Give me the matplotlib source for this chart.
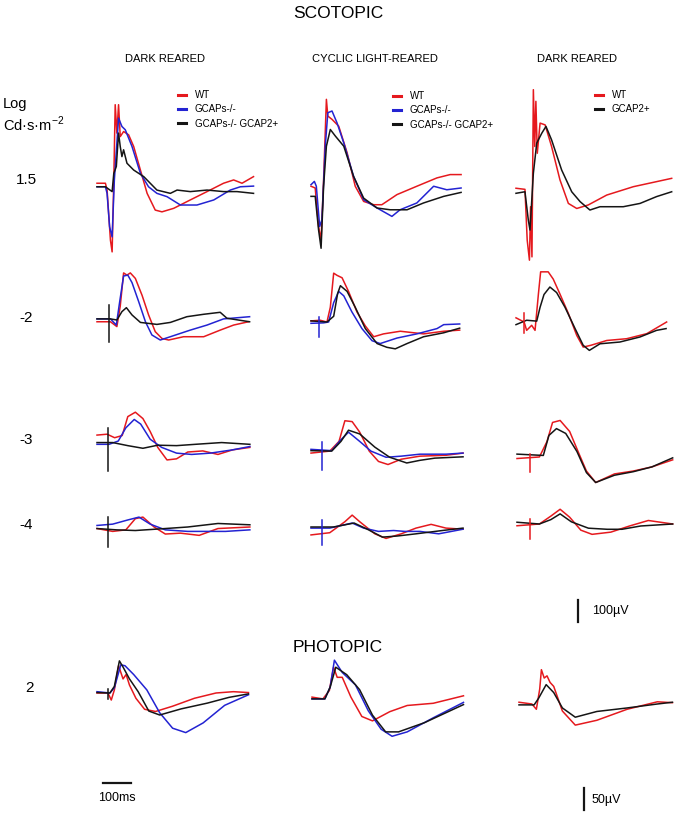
import matplotlib
matplotlib.use('Agg')
import matplotlib.pyplot as plt
from matplotlib.lines import Line2D

plt.rcParams['font.family'] = ['Liberation Sans', 'DejaVu Sans']
plt.rcParams['mathtext.fontset'] = 'custom'
plt.rcParams['mathtext.rm'] = 'Liberation Sans'

# ---- data: time (ms) and response (uV) ----
# scotopic 1.5, dark reared
s15_dr_wt_t = [0, 30, 36, 48, 54, 60, 65, 71, 77, 83, 95, 113, 131, 155, 179, 208, 232, 274, 333, 393, 452, 488, 518, 559]
s15_dr_wt_v = [8, 8, -23, -251, -304, 23, 365, 236, 365, 220, 243, 228, 175, 68, -38, -114, -122, -106, -68, -30, 8, 23, 8, 38]
s15_dr_ko_t = [0, 30, 36, 45, 54, 62, 77, 89, 101, 125, 155, 184, 214, 250, 298, 357, 417, 476, 512, 559]
s15_dr_ko_v = [-8, -8, -38, -190, -236, 23, 304, 266, 251, 175, 53, -8, -38, -53, -91, -91, -68, -23, -8, -5]
s15_dr_g2_t = [0, 30, 54, 60, 69, 77, 83, 89, 95, 107, 131, 167, 214, 262, 286, 333, 393, 452, 500, 559]
s15_dr_g2_v = [-8, -8, -30, 53, 84, 236, 175, 129, 160, 99, 68, 38, -23, -38, -23, -30, -23, -30, -30, -38]
# scotopic 1.5, cyclic light reared
s15_cl_wt_t = [0, 15, 27, 36, 45, 55, 60, 75, 99, 129, 158, 188, 224, 253, 307, 378, 450, 497, 536]
s15_cl_wt_v = [8, 0, -175, -236, 38, 403, 327, 312, 281, 160, 8, -61, -76, -76, -30, 8, 46, 61, 61]
s15_cl_ko_t = [0, 12, 19, 31, 39, 51, 60, 75, 93, 117, 152, 188, 236, 289, 318, 378, 438, 485, 536]
s15_cl_ko_v = [15, 30, 8, -175, -144, 190, 342, 350, 296, 205, 53, -53, -91, -129, -99, -68, 8, -8, 0]
s15_cl_g2_t = [0, 15, 27, 36, 45, 55, 69, 87, 117, 152, 188, 236, 283, 343, 402, 474, 536]
s15_cl_g2_v = [-38, -38, -190, -274, 8, 190, 266, 236, 190, 53, -46, -91, -99, -99, -68, -38, -20]
# scotopic 1.5, dark reared (GCAP2+)
s15_d2_wt_t = [0, 32, 40, 48, 52, 57, 62, 67, 71, 76, 86, 104, 127, 157, 187, 217, 258, 324, 419, 502, 556]
s15_d2_wt_v = [8, 3, -228, -319, -76, -304, 456, 198, 403, 167, 304, 296, 198, 46, -61, -84, -68, -23, 15, 38, 53]
s15_d2_tg_t = [0, 32, 44, 50, 62, 74, 92, 107, 127, 163, 199, 229, 264, 300, 383, 443, 502, 556]
s15_d2_tg_v = [-15, -8, -137, -182, 76, 213, 258, 289, 228, 91, -8, -53, -91, -76, -76, -61, -30, -8]

# scotopic -2
s2_dr_wt_t = [0, 48, 71, 83, 95, 107, 119, 137, 161, 184, 208, 232, 256, 309, 381, 440, 488, 541]
s2_dr_wt_v = [-8, -8, -30, 63, 214, 204, 214, 189, 112, 24, -53, -84, -91, -76, -76, -46, -23, -8]
s2_dr_ko_t = [0, 48, 69, 81, 95, 110, 125, 149, 173, 196, 226, 262, 333, 393, 452, 545]
s2_dr_ko_v = [5, 5, -23, 83, 200, 204, 170, 83, -8, -68, -91, -76, -46, -23, 5, 15]
s2_dr_g2_t = [0, 48, 71, 89, 105, 125, 155, 214, 262, 321, 381, 440, 464, 545]
s2_dr_g2_v = [5, 5, 0, 38, 56, 23, -11, -20, -11, 15, 26, 35, 8, -8]
s2_cl_wt_t = [0, 33, 57, 69, 81, 93, 111, 134, 164, 194, 224, 259, 319, 402, 474, 531]
s2_cl_wt_v = [5, 8, 0, 67, 222, 212, 201, 139, 46, -18, -67, -54, -42, -54, -42, -37]
s2_cl_ko_t = [0, 45, 63, 81, 99, 117, 146, 182, 218, 247, 307, 378, 450, 474, 531]
s2_cl_ko_v = [-6, -4, 0, 88, 139, 119, 46, -30, -85, -98, -73, -54, -30, -12, -9]
s2_cl_g2_t = [0, 57, 81, 95, 105, 129, 158, 194, 236, 271, 301, 343, 402, 474, 531]
s2_cl_g2_v = [5, 0, 26, 129, 165, 139, 67, -30, -98, -115, -122, -98, -67, -49, -28]
s2_d2_wt_t = [0, 29, 38, 56, 68, 80, 88, 115, 133, 157, 187, 217, 240, 267, 324, 395, 467, 538]
s2_d2_wt_v = [19, 0, -38, -15, -38, 127, 228, 228, 195, 127, 39, -61, -114, -106, -84, -76, -53, 0]
s2_d2_tg_t = [0, 38, 74, 86, 100, 121, 145, 175, 211, 240, 262, 300, 371, 443, 502, 536]
s2_d2_tg_v = [-12, 8, 4, 67, 125, 159, 134, 67, -30, -106, -129, -99, -91, -68, -38, -30]

# scotopic -3
s3_dr_wt_t = [0, 36, 63, 90, 110, 137, 164, 190, 217, 250, 284, 324, 378, 432, 485, 546]
s3_dr_wt_v = [36, 40, 24, 34, 120, 140, 111, 52, -20, -77, -72, -41, -36, -52, -31, -20]
s3_dr_ko_t = [0, 43, 76, 103, 133, 156, 190, 231, 284, 338, 405, 485, 546]
s3_dr_ko_v = [-6, -6, 9, 69, 107, 86, 17, -20, -46, -52, -46, -31, -16]
s3_dr_g2_t = [0, 56, 110, 164, 217, 284, 351, 445, 546]
s3_dr_g2_v = [2, 2, -12, -24, -10, -12, -6, 2, -6]
s3_cl_wt_t = [0, 67, 100, 121, 147, 174, 208, 241, 275, 322, 389, 482, 543]
s3_cl_wt_v = [-14, -5, 39, 133, 129, 81, -5, -52, -66, -42, -28, -24, -14]
s3_cl_ko_t = [0, 74, 107, 134, 174, 214, 268, 322, 389, 482, 543]
s3_cl_ko_v = [3, -3, 47, 81, 39, -5, -33, -28, -19, -19, -14]
s3_cl_g2_t = [0, 74, 107, 134, 174, 228, 281, 342, 389, 442, 543]
s3_cl_g2_v = [-3, -5, 39, 90, 73, 13, -33, -59, -47, -37, -31]
s3_d2_wt_t = [0, 80, 107, 127, 154, 188, 221, 248, 281, 348, 415, 482, 556]
s3_d2_wt_v = [-16, -9, 61, 148, 157, 107, 7, -73, -125, -86, -73, -54, -22]
s3_d2_tg_t = [0, 94, 114, 141, 174, 214, 248, 281, 348, 415, 482, 556]
s3_d2_tg_v = [4, -2, 89, 120, 98, 16, -80, -125, -92, -76, -54, -13]

# scotopic -4
s4_dr_wt_t = [0, 56, 103, 137, 164, 204, 244, 298, 365, 432, 546]
s4_dr_wt_v = [-7, -20, -13, 38, 45, 0, -32, -28, -38, -7, 0]
s4_dr_ko_t = [0, 56, 110, 150, 190, 244, 324, 378, 459, 546]
s4_dr_ko_v = [7, 13, 32, 45, 13, -13, -20, -20, -20, -13]
s4_dr_g2_t = [0, 70, 137, 244, 324, 432, 546]
s4_dr_g2_v = [-7, -13, -16, -7, 0, 16, 10]
s4_cl_wt_t = [0, 67, 121, 147, 174, 228, 268, 322, 375, 429, 482, 543]
s4_cl_wt_v = [-36, -26, 24, 54, 24, -31, -52, -31, -5, 12, -5, -10]
s4_cl_ko_t = [0, 67, 147, 188, 241, 295, 335, 389, 456, 543]
s4_cl_ko_v = [-5, -5, 18, -5, -20, -16, -20, -20, -31, -10]
s4_cl_g2_t = [0, 80, 154, 201, 255, 308, 375, 469, 543]
s4_cl_g2_v = [0, 0, 18, -10, -46, -41, -31, -16, -5]
s4_d2_wt_t = [0, 80, 121, 154, 188, 228, 268, 335, 402, 469, 556]
s4_d2_wt_v = [-8, 0, 36, 67, 31, -28, -47, -37, -9, 16, 0]
s4_d2_tg_t = [0, 80, 121, 154, 194, 255, 322, 375, 442, 556]
s4_d2_tg_v = [8, 0, 20, 46, 10, -19, -24, -24, -9, 0]

# photopic 2
p2_dr_wt_t = [0, 39, 51, 62, 77, 93, 104, 116, 139, 170, 209, 270, 348, 425, 487, 541]
p2_dr_wt_v = [0, 0, -16, 7, 62, 32, 42, 18, -12, -37, -42, -30, -12, 0, 3, 1]
p2_dr_ko_t = [0, 46, 62, 85, 100, 131, 178, 224, 270, 317, 379, 456, 541]
p2_dr_ko_v = [3, 0, 12, 64, 62, 42, 7, -45, -80, -90, -68, -28, -4]
p2_dr_g2_t = [0, 46, 62, 80, 93, 116, 147, 185, 224, 301, 394, 471, 541]
p2_dr_g2_v = [1, 0, 15, 73, 59, 32, 3, -41, -50, -36, -23, -10, -2]
p2_cl_wt_t = [0, 39, 62, 77, 90, 108, 139, 178, 216, 278, 340, 433, 541]
p2_cl_wt_v = [2, -2, 17, 70, 47, 47, 2, -42, -52, -31, -17, -12, 5]
p2_cl_ko_t = [0, 46, 65, 80, 108, 155, 201, 247, 286, 340, 433, 541]
p2_cl_ko_v = [-2, -2, 25, 86, 58, 30, -29, -71, -87, -77, -45, -10]
p2_cl_g2_t = [0, 46, 65, 85, 124, 170, 216, 263, 309, 402, 541]
p2_cl_g2_v = [-2, -2, 25, 70, 53, 19, -39, -77, -77, -56, -15]
p2_d2_wt_t = [0, 46, 62, 74, 80, 90, 100, 111, 124, 155, 201, 278, 386, 494, 548]
p2_d2_wt_v = [4, 0, -12, 34, 78, 59, 64, 49, 40, -16, -48, -37, -12, 5, 3]
p2_d2_tg_t = [0, 54, 70, 97, 124, 155, 201, 278, 386, 494, 548]
p2_d2_tg_v = [-2, -2, 13, 44, 26, -9, -30, -17, -9, 0, 4]

# flash artefacts: (time ms, top uV, bottom uV)
mark_s2_dr = (42, 68, -100)
mark_s2_cl = (27, 25, -70)
mark_s2_d2 = (29, 40, -50)
mark_s3_dr = (39, 68, -125)
mark_s3_cl = (40, 36, -91)
mark_s3_d2 = (47, 5, -75)
mark_s4_dr = (39, 45, -90)
mark_s4_cl = (40, 30, -80)
mark_s4_d2 = (47, 25, -70)
mark_p2_dr = (39, 8, -14)

row_labels = ['1.5', '-2', '-3', '-4']
col_titles = ['DARK REARED', 'CYCLIC LIGHT-REARED', 'DARK REARED']
legend_3 = ['WT', 'GCAPs-/-', 'GCAPs-/- GCAP2+']
legend_2 = ['WT', 'GCAP2+']
scale_scot_uv = 100
scale_phot_uv = 50
scale_ms = 100

RED = '#e5191e'
BLUE = '#2323d2'
BLACK = '#151515'

W, H = 675, 835
PX_MS = 0.28      # pixels per ms
PX_UV_S = 0.22    # pixels per uV, scotopic
PX_UV_P = 0.44    # pixels per uV, photopic

fig = plt.figure(figsize=(W / 100, H / 100), dpi=100)


def fx(px):
    return px / W


def fy(py):
    return 1 - py / H


def panel(x0, y0, px_uv, span_ms=600, up_px=120, down_px=100):
    # axes whose data origin sits at pixel (x0, y0)
    ax = fig.add_axes([fx(x0 - 5), fy(y0 + down_px),
                       (span_ms * PX_MS + 10) / W, (up_px + down_px) / H])
    ax.set_xlim(-5 / PX_MS, span_ms + 5 / PX_MS)
    ax.set_ylim(-down_px / px_uv, up_px / px_uv)
    ax.axis('off')
    ax.patch.set_alpha(0)
    return ax


def draw(x0, y0, px_uv, traces, mark=None, mark_color=BLACK):
    ax = panel(x0, y0, px_uv)
    for t, v, c in traces:
        ax.plot(t, v, color=c, lw=1.1, solid_joinstyle='round')
    if mark is not None:
        ax.plot([mark[0], mark[0]], [mark[1], mark[2]], color=mark_color, lw=1.1)
    return ax


# row 1.5
draw(97, 185, PX_UV_S, [(s15_dr_wt_t, s15_dr_wt_v, RED), (s15_dr_ko_t, s15_dr_ko_v, BLUE),
                        (s15_dr_g2_t, s15_dr_g2_v, BLACK)])
draw(311, 188, PX_UV_S, [(s15_cl_wt_t, s15_cl_wt_v, RED), (s15_cl_ko_t, s15_cl_ko_v, BLUE),
                         (s15_cl_g2_t, s15_cl_g2_v, BLACK)])
draw(516, 190, PX_UV_S, [(s15_d2_wt_t, s15_d2_wt_v, RED), (s15_d2_tg_t, s15_d2_tg_v, BLACK)])
# row -2
draw(97, 320, PX_UV_S, [(s2_dr_wt_t, s2_dr_wt_v, RED), (s2_dr_ko_t, s2_dr_ko_v, BLUE),
                        (s2_dr_g2_t, s2_dr_g2_v, BLACK)], mark_s2_dr, BLACK)
draw(311, 322, PX_UV_S, [(s2_cl_wt_t, s2_cl_wt_v, RED), (s2_cl_ko_t, s2_cl_ko_v, BLUE),
                         (s2_cl_g2_t, s2_cl_g2_v, BLACK)], mark_s2_cl, BLUE)
draw(516, 322, PX_UV_S, [(s2_d2_wt_t, s2_d2_wt_v, RED), (s2_d2_tg_t, s2_d2_tg_v, BLACK)],
     mark_s2_d2, RED)
# row -3
draw(97, 443, PX_UV_S, [(s3_dr_wt_t, s3_dr_wt_v, RED), (s3_dr_ko_t, s3_dr_ko_v, BLUE),
                        (s3_dr_g2_t, s3_dr_g2_v, BLACK)], mark_s3_dr, BLACK)
draw(311, 450, PX_UV_S, [(s3_cl_wt_t, s3_cl_wt_v, RED), (s3_cl_ko_t, s3_cl_ko_v, BLUE),
                         (s3_cl_g2_t, s3_cl_g2_v, BLACK)], mark_s3_cl, BLUE)
draw(517, 455, PX_UV_S, [(s3_d2_wt_t, s3_d2_wt_v, RED), (s3_d2_tg_t, s3_d2_tg_v, BLACK)],
     mark_s3_d2, RED)
# row -4
draw(97, 527, PX_UV_S, [(s4_dr_wt_t, s4_dr_wt_v, RED), (s4_dr_ko_t, s4_dr_ko_v, BLUE),
                        (s4_dr_g2_t, s4_dr_g2_v, BLACK)], mark_s4_dr, BLACK)
draw(311, 527, PX_UV_S, [(s4_cl_wt_t, s4_cl_wt_v, RED), (s4_cl_ko_t, s4_cl_ko_v, BLUE),
                         (s4_cl_g2_t, s4_cl_g2_v, BLACK)], mark_s4_cl, BLUE)
draw(517, 524, PX_UV_S, [(s4_d2_wt_t, s4_d2_wt_v, RED), (s4_d2_tg_t, s4_d2_tg_v, BLACK)],
     mark_s4_d2, RED)
# photopic
draw(97, 693, PX_UV_P, [(p2_dr_wt_t, p2_dr_wt_v, RED), (p2_dr_ko_t, p2_dr_ko_v, BLUE),
                        (p2_dr_g2_t, p2_dr_g2_v, BLACK)], mark_p2_dr, BLACK)
draw(312, 698, PX_UV_P, [(p2_cl_wt_t, p2_cl_wt_v, RED), (p2_cl_ko_t, p2_cl_ko_v, BLUE),
                         (p2_cl_g2_t, p2_cl_g2_v, BLACK)])
draw(519, 704, PX_UV_P, [(p2_d2_wt_t, p2_d2_wt_v, RED), (p2_d2_tg_t, p2_d2_tg_v, BLACK)])

# scale bars
ax = panel(578, 622, PX_UV_S, span_ms=50)
ax.plot([0, 0], [0, scale_scot_uv], color=BLACK, lw=1.6)
ax = panel(584, 810, PX_UV_P, span_ms=50)
ax.plot([0, 0], [0, scale_phot_uv], color=BLACK, lw=1.6)
ax = panel(103, 783, PX_UV_P, span_ms=150)
ax.plot([0, scale_ms], [0, 0], color=BLACK, lw=1.6)

fig.text(fx(592), fy(611), '100µV', ha='left', va='center', fontsize=9)
fig.text(fx(592), fy(800), '50µV', ha='left', va='center', fontsize=9)
fig.text(fx(117), fy(798), '100ms', ha='center', va='center', fontsize=9)

# titles and labels
fig.text(fx(338), fy(13), 'SCOTOPIC', ha='center', va='center', fontsize=12.5)
fig.text(fx(338), fy(648), 'PHOTOPIC', ha='center', va='center', fontsize=12.5)
for xc, title in zip([165, 375, 577], col_titles):
    fig.text(fx(xc), fy(59), title, ha='center', va='center', fontsize=8)
fig.text(fx(3), fy(104), 'Log', ha='left', va='center', fontsize=10.5)
fig.text(fx(3), fy(124), r'Cd·s·m$^{\mathregular{-2}}$', ha='left', va='center', fontsize=10.5)
for yc, lab in zip([180, 318, 440, 525], row_labels):
    fig.text(fx(26), fy(yc), lab, ha='center', va='center', fontsize=11)
fig.text(fx(30), fy(688), '2', ha='center', va='center', fontsize=11)

# legends
h3 = [Line2D([], [], color=c, lw=2.2) for c in (RED, BLUE, BLACK)]
h2 = [Line2D([], [], color=c, lw=2.2) for c in (RED, BLACK)]
for (xl, yl), handles, labels in [((178, 90), h3, legend_3), ((393, 91), h3, legend_3),
                                  ((595, 90), h2, legend_2)]:
    fig.legend(handles, labels, loc='upper left', bbox_to_anchor=(fx(xl), fy(yl)),
               frameon=False, fontsize=7, handlelength=0.8, handletextpad=0.9,
               labelspacing=0.45, borderpad=0, borderaxespad=0)

fig.savefig('out.png', dpi=100)
